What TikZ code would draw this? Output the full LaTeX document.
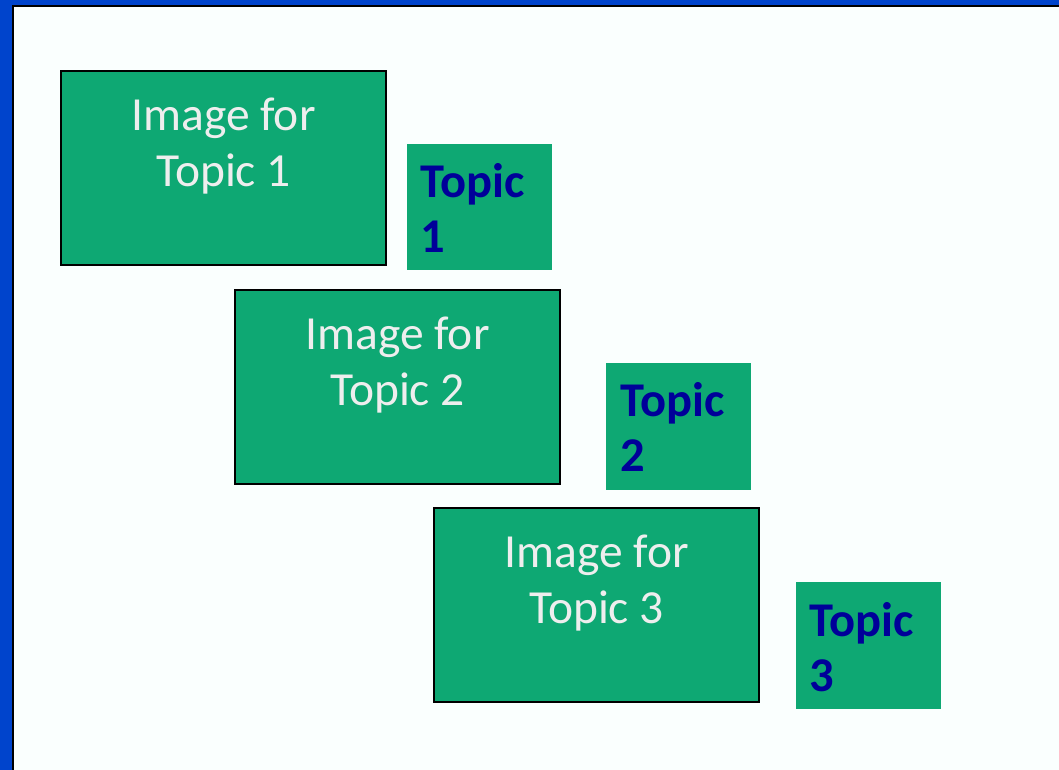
\documentclass[tikz,border=0pt]{standalone}
\usepackage{fontspec}
\setmainfont{Carlito}
\definecolor{bgwhite}{HTML}{FAFFFE}
\definecolor{frameblue}{HTML}{0044CC}
\definecolor{boxgreen}{HTML}{0EA873}
\definecolor{imgtext}{HTML}{EEEEEE}
\definecolor{topicblue}{HTML}{000099}
\begin{document}
\begin{tikzpicture}[x=1pt,y=-1pt,
  imgbox/.style={draw=black,line width=2pt,fill=boxgreen},
  topicbox/.style={fill=boxgreen},
  imglabel/.style={font=\fontsize{47.5}{56}\selectfont,text=imgtext,align=center,anchor=base,inner sep=0pt},
  topiclabel/.style={font=\fontsize{48.5}{55}\selectfont\bfseries,text=topicblue,align=left,anchor=base west,inner sep=0pt}]
\useasboundingbox (0,0) rectangle (1059,770);
\fill[bgwhite] (0,0) rectangle (1059,770);
\fill[frameblue] (0,0) rectangle (1059,5);
\fill[frameblue] (0,0) rectangle (12,770);
\fill[black] (12,5) rectangle (1059,7);
\fill[black] (12,5) rectangle (14,770);
% image boxes
\draw[imgbox] (61,71) rectangle (386,265);
\draw[imgbox] (235,290) rectangle (560,484);
\draw[imgbox] (434,508) rectangle (759,702);
\node[imglabel] (i1) at (223.5,186) {Image for\\Topic 1};
\node[imglabel] (i2) at (397.5,405) {Image for\\Topic 2};
\node[imglabel] (i3) at (596.5,623) {Image for\\Topic 3};
% topic boxes
\fill[topicbox] (407,144) rectangle (552,270);
\fill[topicbox] (606,363) rectangle (751,490);
\fill[topicbox] (796,582) rectangle (941,709);
\node[topiclabel] (t1) at (420,252) {Topic\\1};
\node[topiclabel] (t2) at (620,471) {Topic\\2};
\node[topiclabel] (t3) at (809,691) {Topic\\3};
\end{tikzpicture}
\end{document}
